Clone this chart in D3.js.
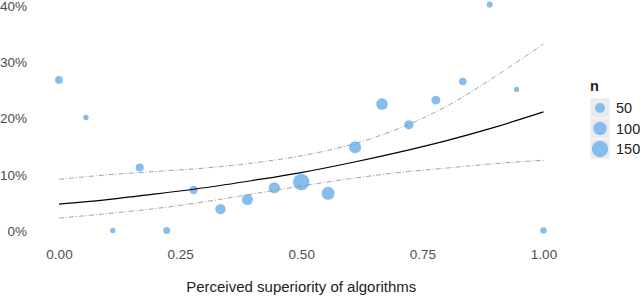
<!DOCTYPE html>
<html>
<head>
<meta charset="utf-8">
<script src="https://cdn.jsdelivr.net/npm/d3@7"></script>
<style>
  body { margin: 0; background: #fff; }
  text { font-family: "Liberation Sans", Arial, sans-serif; }
</style>
</head>
<body>
<script>
// observed shares (x = perceived superiority, y = share, n = group size)
var superiority = [0, 1/18, 2/18, 3/18, 4/18, 5/18, 6/18, 7/18, 8/18, 9/18,
                   10/18, 11/18, 12/18, 13/18, 14/18, 15/18, 16/18, 17/18, 1];
var share = [0.269, 0.202, 0.001, 0.113, 0.001, 0.073, 0.039, 0.056, 0.077, 0.087,
             0.067, 0.149, 0.226, 0.189, 0.233, 0.266, 0.403, 0.252, 0.001];
var groupN = [29, 12, 12, 31, 23, 34, 56, 63, 66, 150,
              91, 76, 71, 42, 40, 27, 16, 11, 18];

// fitted curve and band
var fitX = [0, 0.1, 0.2, 0.3, 0.4, 0.5, 0.6, 0.7, 0.8, 0.9, 1.0];
var fitMid = [0.048, 0.056, 0.066, 0.077, 0.090, 0.104, 0.121, 0.140, 0.161, 0.185, 0.212];
var fitUpper = [0.092, 0.100, 0.106, 0.112, 0.121, 0.134, 0.153, 0.182, 0.222, 0.275, 0.333];
var fitLower = [0.023, 0.031, 0.040, 0.052, 0.066, 0.080, 0.093, 0.104, 0.112, 0.120, 0.126];

var xTicks = [0, 0.25, 0.5, 0.75, 1];
var yTicks = [0, 0.1, 0.2, 0.3, 0.4];
var legendN = [50, 100, 150];

var width = 640, height = 297;

var svg = d3.select("body").append("svg")
    .attr("width", width)
    .attr("height", height);

var x = d3.scaleLinear().domain([0, 1]).range([59, 543.5]);
var y = d3.scaleLinear().domain([0, 0.4]).range([231, 6.3]);
var r = d3.scaleSqrt().domain([10, 150]).range([2.5, 8.2]);

// axes (no lines, labels only)
var xAxis = svg.append("g")
    .attr("transform", "translate(0,249)")
    .call(d3.axisBottom(x).tickValues(xTicks).tickFormat(d3.format(".2f")).tickSize(0));
xAxis.select(".domain").remove();
xAxis.selectAll("text")
    .attr("fill", "#4d4d4d")
    .attr("font-size", 13.5)
    .attr("dy", "0.71em")
    .attr("y", 0);

var yAxis = svg.append("g")
    .attr("transform", "translate(27,0)")
    .call(d3.axisLeft(y).tickValues(yTicks).tickFormat(d3.format(".0%")).tickSize(0));
yAxis.select(".domain").remove();
yAxis.selectAll("text")
    .attr("fill", "#4d4d4d")
    .attr("font-size", 13.5)
    .attr("x", 0);

svg.append("text")
    .attr("x", x(0.5))
    .attr("y", 292)
    .attr("text-anchor", "middle")
    .attr("font-size", 15)
    .attr("fill", "#222")
    .text("Perceived superiority of algorithms");

// points
var pts = superiority.map(function(d, i) { return {x: d, y: share[i], n: groupN[i]}; });
svg.append("g").selectAll("circle")
    .data(pts)
    .enter().append("circle")
    .attr("cx", function(d) { return x(d.x); })
    .attr("cy", function(d) { return y(d.y); })
    .attr("r", function(d) { return r(d.n); })
    .attr("fill", "#85bdef");

// fit lines
function lineFor(vals) {
  return d3.line()
    .x(function(d, i) { return x(fitX[i]); })
    .y(function(d) { return y(d); })
    .curve(d3.curveMonotoneX)(vals);
}

svg.append("path")
    .attr("d", lineFor(fitUpper))
    .attr("fill", "none")
    .attr("stroke", "#8a8a8a")
    .attr("stroke-width", 0.8)
    .attr("stroke-dasharray", "5,2,1,2");

svg.append("path")
    .attr("d", lineFor(fitLower))
    .attr("fill", "none")
    .attr("stroke", "#8a8a8a")
    .attr("stroke-width", 0.8)
    .attr("stroke-dasharray", "5,2,1,2");

svg.append("path")
    .attr("d", lineFor(fitMid))
    .attr("fill", "none")
    .attr("stroke", "#000")
    .attr("stroke-width", 1.2);

// legend
var legend = svg.append("g");
legend.append("text")
    .attr("x", 590)
    .attr("y", 91)
    .attr("font-size", 14.5)
    .attr("font-weight", "bold")
    .attr("fill", "#222")
    .text("n");

var keys = legend.selectAll("g.key")
    .data(legendN)
    .enter().append("g")
    .attr("class", "key")
    .attr("transform", function(d, i) { return "translate(600," + (108 + i * 20.5) + ")"; });

keys.append("rect")
    .attr("x", -9.5).attr("y", -9.8)
    .attr("width", 19).attr("height", 19.6)
    .attr("fill", "#ebebeb");

keys.append("circle")
    .attr("r", function(d) { return r(d); })
    .attr("fill", "#85bdef");

keys.append("text")
    .attr("x", 16)
    .attr("dy", "0.35em")
    .attr("font-size", 14.5)
    .attr("fill", "#222")
    .text(function(d) { return d; });
</script>
</body>
</html>
